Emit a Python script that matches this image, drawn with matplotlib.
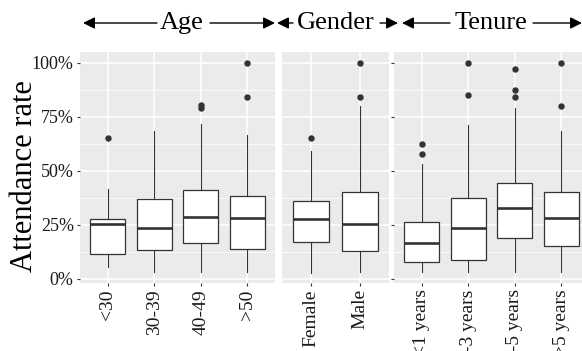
import numpy as np
import matplotlib
matplotlib.use('Agg')
from matplotlib import pyplot as plt
from matplotlib.ticker import FixedLocator

plt.rcParams['font.family'] = ['Liberation Serif', 'DejaVu Serif']

# Box statistics (attendance rate, %)
age_labels = ['<30', '30-39', '40-49', '>50']
age_whislo = [5.3, 2.9, 2.9, 2.9]
age_q1 = [11.5, 13.3, 16.6, 13.8]
age_med = [25.1, 23.6, 28.5, 28.2]
age_q3 = [27.8, 37.1, 40.9, 38.1]
age_whishi = [41.4, 68.4, 71.5, 66.7]
age_fliers = [[65.1], [], [78.9, 80.3], [84.2, 100.0]]

gender_labels = ['Female', 'Male']
gender_whislo = [2.7, 2.9]
gender_q1 = [17.2, 12.9]
gender_med = [27.8, 25.1]
gender_q3 = [36.0, 39.9]
gender_whishi = [59.0, 80.0]
gender_fliers = [[65.3], [84.0, 100.0]]

tenure_labels = ['<1 years', '1-3 years', '3-5 years', '>5 years']
tenure_whislo = [2.9, 2.9, 2.9, 2.9]
tenure_q1 = [7.9, 8.8, 18.9, 15.3]
tenure_med = [16.3, 23.4, 32.7, 28.2]
tenure_q3 = [26.2, 37.3, 44.3, 39.9]
tenure_whishi = [52.9, 71.2, 78.9, 68.5]
tenure_fliers = [[57.5, 62.2], [85.1, 100.0], [84.2, 87.4, 97.2], [80.0, 100.0]]

W, H = 582, 351
fig = plt.figure(figsize=(W / 100, H / 100), dpi=100)

def px_axes(left, right, top, bottom):
    return fig.add_axes([left / W, 1 - bottom / H, (right - left) / W, (bottom - top) / H])

ax1 = px_axes(80, 275, 52, 283)
ax2 = px_axes(282, 389, 52, 283)
ax3 = px_axes(394, 589, 52, 283)

edge = '#333333'

def draw_panel(ax, labels, whislo, q1, med, q3, whishi, fliers):
    stats = []
    for i in range(len(labels)):
        stats.append(dict(whislo=whislo[i], q1=q1[i], med=med[i], q3=q3[i],
                          whishi=whishi[i], fliers=fliers[i], label=labels[i]))
    pos = np.arange(1, len(labels) + 1)
    ax.bxp(stats, positions=pos, widths=0.75, patch_artist=True, showcaps=False,
           boxprops=dict(facecolor='white', edgecolor=edge, linewidth=0.9),
           medianprops=dict(color=edge, linewidth=1.9),
           whiskerprops=dict(color=edge, linewidth=0.8),
           flierprops=dict(marker='o', markerfacecolor=edge, markeredgecolor=edge,
                           markersize=3.6))
    ax.set_facecolor('#EBEBEB')
    ax.set_xlim(0.4, len(labels) + 0.6)
    ax.set_ylim(-2.0, 104.9)
    ax.yaxis.set_major_locator(FixedLocator([0, 25, 50, 75, 100]))
    ax.yaxis.set_minor_locator(FixedLocator([12.5, 37.5, 62.5, 87.5]))
    ax.set_xticks(pos)
    ax.set_xticklabels(labels, rotation=90, fontsize=14, color='#1a1a1a')
    ax.grid(which='major', color='white', linewidth=1.1)
    ax.grid(which='minor', axis='y', color='white', linewidth=0.55)
    ax.set_axisbelow(True)
    for s in ax.spines.values():
        s.set_visible(False)
    ax.tick_params(axis='x', length=2.5, width=0.8, color=edge, pad=2)
    ax.tick_params(axis='y', which='minor', length=0)

draw_panel(ax1, age_labels, age_whislo, age_q1, age_med, age_q3, age_whishi, age_fliers)
draw_panel(ax2, gender_labels, gender_whislo, gender_q1, gender_med, gender_q3, gender_whishi, gender_fliers)
draw_panel(ax3, tenure_labels, tenure_whislo, tenure_q1, tenure_med, tenure_q3, tenure_whishi, tenure_fliers)

ax1.set_yticklabels(['0%', '25%', '50%', '75%', '100%'], fontsize=13, color='#1a1a1a')
ax1.tick_params(axis='y', which='major', length=2.5, width=0.8, color=edge, pad=2)
ax2.tick_params(axis='y', which='major', length=0, labelleft=False)
ax3.tick_params(axis='y', which='major', length=2.5, width=0.8, color=edge, labelleft=False)

fig.text(25 / W, 1 - 176 / H, 'Attendance rate', rotation=90, fontsize=22,
         ha='center', va='center')

# header arrows above each panel group
arrow_y = 1 - 23 / H
headers = [
    ('Age', 182, 83, 157, 210, 275),
    ('Gender', 336, 277, 293, 380, 398),
    ('Tenure', 491, 402, 450, 533, 582),
]
for text, cx, left_tip, left_start, right_start, right_tip in headers:
    fig.text(cx / W, arrow_y, text, fontsize=19, ha='center', va='center')
    for start, tip in [(left_start, left_tip), (right_start, right_tip)]:
        fig.add_artist(matplotlib.patches.FancyArrowPatch(
            (start / W, arrow_y), (tip / W, arrow_y), transform=fig.transFigure,
            arrowstyle='-|>,head_length=7,head_width=3.5', color='black',
            linewidth=1.0, shrinkA=0, shrinkB=0, mutation_scale=1))

fig.savefig('out.png', dpi=100)
